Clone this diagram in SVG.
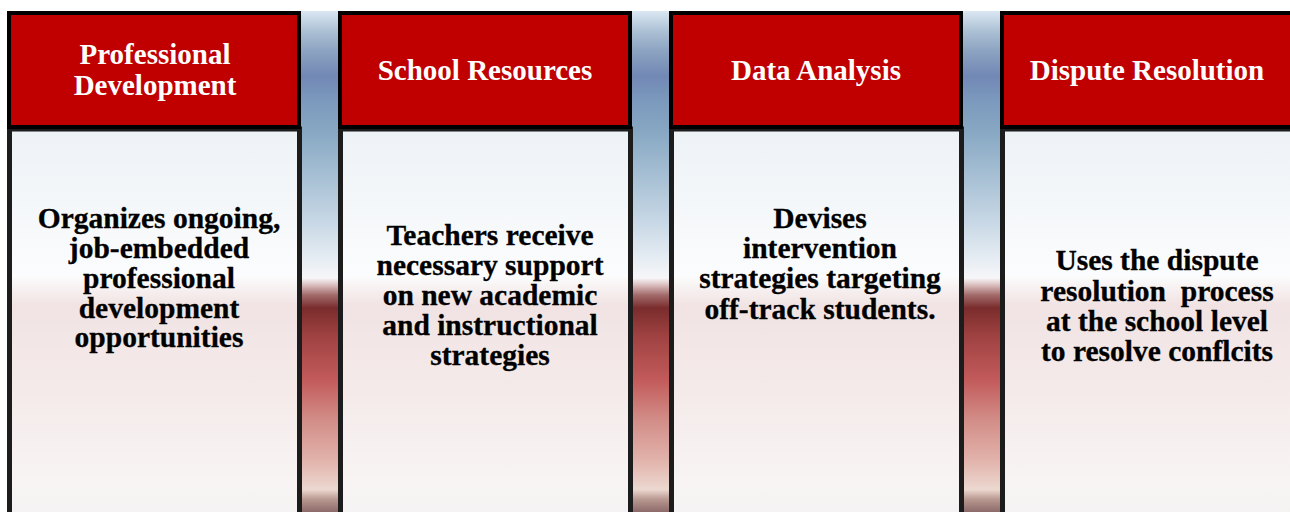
<svg xmlns="http://www.w3.org/2000/svg" width="1290" height="512" viewBox="0 0 1290 512">
<style>
.hd{fill:#c00000;stroke:#000;stroke-width:4}
.bd{fill:url(#bodyGrad);stroke:#1c1c1c;stroke-width:5}
.ht{font-family:"Liberation Serif","Times New Roman",serif;font-weight:bold;font-size:29px;fill:#fff;text-anchor:middle}
.bt{font-family:"Liberation Serif","Times New Roman",serif;font-weight:bold;font-size:29.5px;fill:#000;stroke:#000;stroke-width:0.3;text-anchor:middle;white-space:pre}
.bar{fill:url(#barGrad)}
</style>
<defs>
<linearGradient id="bodyGrad" gradientUnits="userSpaceOnUse" x1="0" y1="129" x2="0" y2="512">
<stop offset="0" stop-color="#edf2f6"/>
<stop offset="0.385" stop-color="#fbfcfd"/>
<stop offset="0.41" stop-color="#f8f3f3"/>
<stop offset="0.46" stop-color="#f1e3e3"/>
<stop offset="0.71" stop-color="#f5ebeb"/>
<stop offset="0.92" stop-color="#f8f4f4"/>
<stop offset="1" stop-color="#f4f2f2"/>
</linearGradient>
<linearGradient id="barGrad" gradientUnits="userSpaceOnUse" x1="0" y1="11" x2="0" y2="512">
<stop offset="0" stop-color="#dbe7f2"/>
<stop offset="0.04" stop-color="#acc1d5"/>
<stop offset="0.08" stop-color="#8ca3c1"/>
<stop offset="0.13" stop-color="#7288b5"/>
<stop offset="0.18" stop-color="#7c9abd"/>
<stop offset="0.24" stop-color="#87a7c3"/>
<stop offset="0.32" stop-color="#a3bdd2"/>
<stop offset="0.42" stop-color="#c7d7e5"/>
<stop offset="0.50" stop-color="#e8eef4"/>
<stop offset="0.533" stop-color="#f6f6f8"/>
<stop offset="0.545" stop-color="#e0c6c6"/>
<stop offset="0.567" stop-color="#a26a6a"/>
<stop offset="0.593" stop-color="#7a2c2c"/>
<stop offset="0.65" stop-color="#a04242"/>
<stop offset="0.735" stop-color="#c25a5a"/>
<stop offset="0.815" stop-color="#d28c87"/>
<stop offset="0.895" stop-color="#e1b2aa"/>
<stop offset="0.955" stop-color="#ecd8d0"/>
<stop offset="0.975" stop-color="#b89890"/>
<stop offset="1" stop-color="#8c6a6a"/>
</linearGradient>
</defs>
<rect width="1290" height="512" fill="#fff"/>
<g id="separators">
<rect class="bar" x="301" y="11" width="38" height="501"/>
<rect class="bar" x="632" y="11" width="38" height="501"/>
<rect class="bar" x="963" y="11" width="38" height="501"/>
</g>
<g id="professional-development">
<rect class="bd" x="9.5" y="129" width="290" height="390"/>
<rect class="hd" x="9" y="13" width="290" height="114"/>
<text class="ht" x="155" y="64">Professional</text>
<text class="ht" x="155" y="95">Development</text>
<text class="bt" x="159" y="228">Organizes ongoing,</text>
<text class="bt" x="159" y="258">job-embedded</text>
<text class="bt" x="159" y="288">professional</text>
<text class="bt" x="159" y="318">development</text>
<text class="bt" x="159" y="347">opportunities</text>
</g>
<g id="school-resources">
<rect class="bd" x="340.5" y="129" width="290" height="390"/>
<rect class="hd" x="340" y="13" width="290" height="114"/>
<text class="ht" x="485" y="80">School Resources</text>
<text class="bt" x="490" y="245">Teachers receive</text>
<text class="bt" x="490" y="275">necessary support</text>
<text class="bt" x="490" y="305">on new academic</text>
<text class="bt" x="490" y="335">and instructional</text>
<text class="bt" x="490" y="365">strategies</text>
</g>
<g id="data-analysis">
<rect class="bd" x="671.5" y="129" width="290" height="390"/>
<rect class="hd" x="671" y="13" width="290" height="114"/>
<text class="ht" x="816" y="80">Data Analysis</text>
<text class="bt" x="820" y="228">Devises</text>
<text class="bt" x="820" y="258">intervention</text>
<text class="bt" x="820" y="288">strategies targeting</text>
<text class="bt" x="820" y="319">off-track students.</text>
</g>
<g id="dispute-resolution">
<rect class="bd" x="1002.5" y="129" width="300" height="390"/>
<rect class="hd" x="1002" y="13" width="300" height="114"/>
<text class="ht" x="1147" y="80">Dispute Resolution</text>
<text class="bt" x="1157" y="270">Uses the dispute</text>
<text class="bt" x="1157" y="301">resolution  process</text>
<text class="bt" x="1157" y="331">at the school level</text>
<text class="bt" x="1157" y="361">to resolve conflcits</text>
</g>
</svg>
